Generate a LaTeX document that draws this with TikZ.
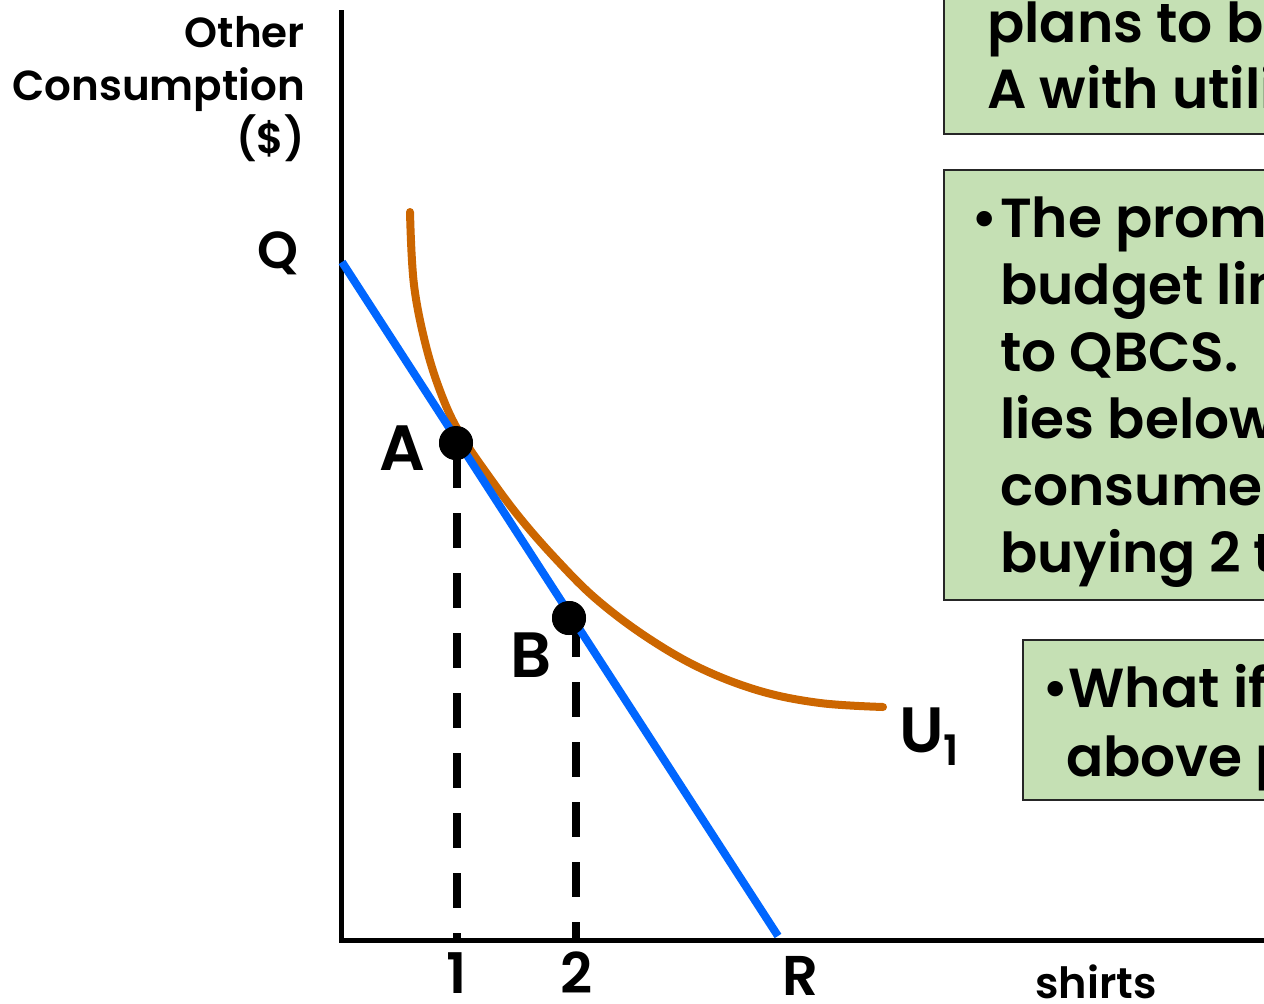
\documentclass[tikz,border=0pt]{standalone}
\usepackage{fontspec}
\IfFontExistsTF{Poppins SemiBold}{\setmainfont{Poppins}[BoldFont={Poppins SemiBold}]}{\setmainfont{Poppins}}
\definecolor{budget}{RGB}{0,102,255}
\definecolor{indiff}{RGB}{204,102,0}
\definecolor{boxgreen}{RGB}{197,224,180}
\begin{document}
\begin{tikzpicture}[x=1pt,y=-1pt,
  axisline/.style={line width=5pt},
  budgetline/.style={line width=8pt, draw=budget},
  icurve/.style={line width=8pt, draw=indiff, line cap=round},
  dropline/.style={line width=8pt, dash pattern=on 35pt off 25pt},
  dot/.style={circle, fill=black, inner sep=0pt, minimum size=34pt},
  txt/.style={font=\bfseries\fontsize{#1}{#1}\selectfont, inner sep=0pt},
  infobox/.style={draw=black!85, line width=2.5pt, fill=boxgreen}]
\useasboundingbox (0,0) rectangle (1264,1004);
\clip (0,0) rectangle (1264,1004);

% info boxes
\path[infobox] (944,-20) rectangle (1320,134);
\node[txt=55, anchor=base west] (b1l1) at (987,42) {plans to bu};
\node[txt=55, anchor=base west] (b1l2) at (987,108) {A with utili};

\path[infobox] (944,170) rectangle (1320,600);
\node[txt=55, anchor=base west] (b2bul) at (971,237) {•};
\node[txt=55, anchor=base west] (b2l1) at (1000,237) {The prome};
\node[txt=55, anchor=base west] (b2l2) at (1000,304) {budget lin};
\node[txt=55, anchor=base west] (b2l3) at (1000,371) {to QBCS.};
\node[txt=55, anchor=base west] (b2l4) at (1000,438) {lies below};
\node[txt=55, anchor=base west] (b2l5) at (1000,505) {consumer};
\node[txt=55, anchor=base west] (b2l6) at (1000,572) {buying 2 t};

\path[infobox] (1023,640) rectangle (1320,800);
\node[txt=55, anchor=base west] (b3l1) at (1042,707) {•What if};
\node[txt=55, anchor=base west] (b3l2) at (1066,776) {above p};

% axes
\coordinate (ytop) at (341,10);
\coordinate (O) at (341,940);
\coordinate (xend) at (1290,940);
\draw[axisline] (ytop) -- (O) -- (xend);

% drop lines
\node[dot] (A) at (456,443) {};
\node[dot] (B) at (569,618) {};
\coordinate (A1) at (457,940);
\coordinate (B1) at (576,940);
\draw[dropline, dash phase=50pt] (A1 |- A.center) -- (A1);
\draw[dropline, dash phase=56pt] (B1 |- B.center) -- (B1);

% indifference curve
\draw[icurve] plot[smooth, tension=0.6] coordinates {(410,212) (414,285) (427,350) (444,401) (462,437) (490,478) (520,518) (555,558) (595,598) (645,636) (700,668) (760,691) (820,703) (883,707)};

% budget line
\coordinate (Qend) at (342,262);
\coordinate (Rend) at (778,936);
\draw[budgetline] (Qend) -- (Rend);

\node[dot] at (A) {};
\node[dot] at (B) {};

% labels
\node[txt=42, anchor=base east] (yl1) at (305,47) {Other};
\node[txt=42, anchor=base east] (yl2) at (305,100) {Consumption};
\node[txt=42, anchor=base east] (yl3) at (305,153) {(\$)};
\node[txt=52, anchor=base] (Q) at (278,268) {Q};
\node[txt=64, anchor=base] (Alab) at (402,470) {A};
\node[txt=64, anchor=base] (Blab) at (531,677) {B};
\node[txt=56, anchor=base] (one) at (457,993) {1};
\node[txt=56, anchor=base] (two) at (577,993) {2};
\node[txt=56, anchor=base] (R) at (800,995) {R};
\node[txt=64, anchor=base west] (U) at (899,752) {U};
\node[txt=42, anchor=base west] (Usub) at (943,765) {1};
\node[txt=43, anchor=base west] (shirts) at (1035,998) {shirts};
\end{tikzpicture}
\end{document}
